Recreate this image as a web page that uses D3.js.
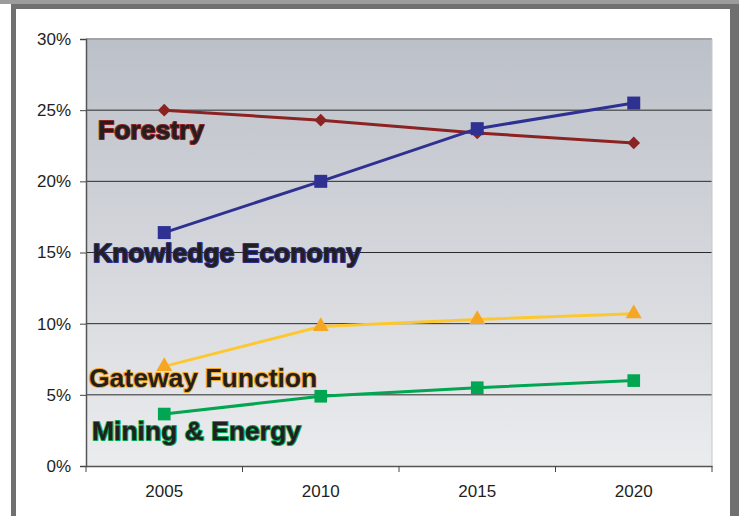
<!DOCTYPE html>
<meta charset="utf-8">
<style>
body { margin: 0; background: #fff; }
text { font-family: "Liberation Sans", Arial, sans-serif; }
.tick text { fill: #231f20; font-size: 17px; }
.label { font-size: 26.5px; font-weight: bold; paint-order: stroke; stroke-width: 2px; stroke-linejoin: round; fill: #231f20; }
</style>
<body>
<script src="https://cdn.jsdelivr.net/npm/d3@7"></script>
<div id="content"></div>
<script>
var width = 739,
    height = 516;

var years = ["2005", "2010", "2015", "2020"];
var yTicks = [0, 5, 10, 15, 20, 25, 30];

var forestry = [25.0, 24.3, 23.4, 22.7];
var knowledge = [16.4, 20.0, 23.7, 25.5];
var gateway = [7.0, 9.8, 10.3, 10.7];
var mining = [3.65, 4.9, 5.5, 6.0];

// series labels, placed by value of their baseline
var labels = [
  {name: "Forestry", x: 98, v: 22.95, stroke: "#8b2323"},
  {name: "Knowledge Economy", x: 93, v: 14.3, stroke: "#2e3192"},
  {name: "Gateway Function", x: 89, v: 5.55, stroke: "#f5a623"},
  {name: "Mining & Energy", x: 92, v: 1.8, stroke: "#00a651"}
];

var series = [
  {values: forestry, line: "#8b2323", fill: "#8b2323", shape: d3.symbolSquare, size: 81, rot: 45},
  {values: knowledge, line: "#2e3192", fill: "#2e3192", shape: d3.symbolSquare, size: 169, rot: 0},
  {values: gateway, line: "#fdc82f", fill: "#f5a623", shape: d3.symbolTriangle, size: 110, rot: 0},
  {values: mining, line: "#00a651", fill: "#00a651", shape: d3.symbolSquare, size: 160, rot: 0}
];

var plot = {left: 86, top: 39, right: 712, bottom: 466};

var svg = d3.select("#content").append("svg")
    .attr("width", width)
    .attr("height", height);

// frame
svg.append("rect").attr("x", 0).attr("y", 0).attr("width", width).attr("height", 4).attr("fill", "#9c9c9c");
svg.append("rect").attr("x", 11).attr("y", 4).attr("width", width - 11).attr("height", 5).attr("fill", "#707070");
svg.append("rect").attr("x", 11).attr("y", 4).attr("width", 5).attr("height", height).attr("fill", "#707070");
svg.append("rect").attr("x", 730).attr("y", 4).attr("width", 9).attr("height", height).attr("fill", "#707070");

var grad = svg.append("defs").append("linearGradient")
    .attr("id", "bg").attr("x1", 0).attr("y1", 0).attr("x2", 0).attr("y2", 1);
grad.append("stop").attr("offset", "0%").attr("stop-color", "#bcc0c8");
grad.append("stop").attr("offset", "100%").attr("stop-color", "#ebecee");

var x = d3.scaleBand().domain(years).range([plot.left, plot.right]);
var y = d3.scaleLinear().domain([0, 30]).range([plot.bottom, plot.top]);

svg.append("rect")
    .attr("x", plot.left).attr("y", plot.top)
    .attr("width", plot.right - plot.left).attr("height", plot.bottom - plot.top)
    .attr("fill", "url(#bg)");

// gridlines
svg.selectAll(".grid")
    .data(yTicks.filter(d => d > 0 && d < 30))
    .enter().append("line")
    .attr("x1", plot.left).attr("x2", plot.right)
    .attr("y1", d => y(d)).attr("y2", d => y(d))
    .attr("stroke", "#2b2b2b").attr("stroke-width", 1);

svg.append("line")
    .attr("x1", plot.left).attr("x2", plot.right)
    .attr("y1", y(30)).attr("y2", y(30))
    .attr("stroke", "#a3a3a3").attr("stroke-width", 2);
svg.append("line")
    .attr("x1", plot.right).attr("x2", plot.right)
    .attr("y1", plot.top).attr("y2", plot.bottom)
    .attr("stroke", "#c8c8c8").attr("stroke-width", 1);

// axes
var yAxis = svg.append("g")
    .attr("transform", "translate(" + plot.left + ",0)")
    .call(d3.axisLeft(y).tickValues(yTicks).tickFormat(d => d + "%").tickSize(6).tickPadding(9));
var xAxis = svg.append("g")
    .attr("transform", "translate(0," + plot.bottom + ")")
    .call(d3.axisBottom(x).tickSize(0).tickPadding(19));
// ticks between categories
svg.selectAll(".xt")
    .data(d3.range(years.length + 1))
    .enter().append("line")
    .attr("x1", i => plot.left + i * x.step()).attr("x2", i => plot.left + i * x.step())
    .attr("y1", plot.bottom).attr("y2", plot.bottom + 6)
    .attr("stroke", "#444");

[yAxis, xAxis].forEach(a => {
  a.select(".domain").attr("stroke", "#555").attr("stroke-width", 1.5);
  a.selectAll(".tick line").attr("stroke", "#444");
});

var cx = (d, i) => x(years[i]) + x.bandwidth() / 2;
var line = d3.line().x(cx).y(d => y(d));

series.forEach(s => {
  svg.append("path")
      .datum(s.values)
      .attr("d", line)
      .attr("fill", "none")
      .attr("stroke", s.line)
      .attr("stroke-width", 3);
  svg.selectAll(null)
      .data(s.values)
      .enter().append("path")
      .attr("d", d3.symbol().type(s.shape).size(s.size))
      .attr("transform", (d, i) => "translate(" + cx(d, i) + "," + y(d) + ") rotate(" + s.rot + ")")
      .attr("fill", s.fill);
});

svg.selectAll(".label")
    .data(labels)
    .enter().append("text")
    .attr("class", "label")
    .attr("x", d => d.x)
    .attr("y", d => y(d.v))
    .attr("stroke", d => d.stroke)
    .text(d => d.name);
</script>
</body>
